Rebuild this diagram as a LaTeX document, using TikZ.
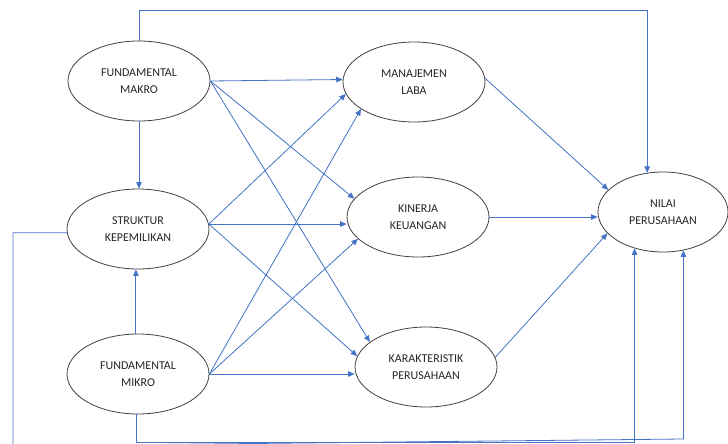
\documentclass[tikz,border=0pt]{standalone}
\usepackage{fontspec}
\setmainfont{Carlito}
\usetikzlibrary{shapes.geometric,arrows.meta}
\definecolor{lblue}{HTML}{4472C4}
\definecolor{egray}{HTML}{404040}
\begin{document}
\begin{tikzpicture}[x=1pt,y=-1pt,
  var/.style={ellipse,draw=egray,line width=0.8pt,minimum width=142pt,minimum height=80pt,inner sep=0pt,align=center,font=\fontsize{12}{16.5}\selectfont,text=black!85},
  arr/.style={draw=lblue,line width=0.8pt,-{Triangle[length=6.5pt,width=5.5pt]}}]
\useasboundingbox (0,0) rectangle (728,444);
\fill[white] (0,0) rectangle (728,444);
\node[var] (FM) at (139,81) {FUNDAMENTAL\\MAKRO};
\node[var] (SK) at (138,229) {STRUKTUR\\KEPEMILIKAN};
\node[var] (FMi) at (138,374) {FUNDAMENTAL\\MIKRO};
\node[var] (ML) at (414,82) {MANAJEMEN\\LABA};
\node[var] (KK) at (418,217) {KINERJA\\KEUANGAN};
\node[var] (KP) at (426,367) {KARAKTERISTIK\\PERUSAHAAN};
\node[var,minimum width=130pt] (NP) at (663,212) {NILAI\\PERUSAHAAN};
\coordinate (top) at (0,10);
\coordinate (botL) at (0,446);
\coordinate (bot1) at (0,439);
\coordinate (bot2) at (0,442);
\coordinate (lft) at (13,0);
% vertical links
\draw[arr] (FM.south) -- (FM.south |- SK.north);
\draw[arr] (FMi.93) -- (FMi.93 |- SK.south);
% from FM
\draw[arr] (FM.east) -- (ML.178);
\draw[arr] (FM.east) -- (KK.164);
\draw[arr] (FM.east) -- (KP.156);
% from SK
\draw[arr] (SK.4) -- (ML.190);
\draw[arr] (SK.4) -- (KK.west |- SK.4);
\draw[arr] (SK.4) -- (KP.171);
% from FMi
\draw[arr] (FMi.east) -- (ML.207);
\draw[arr] (FMi.east) -- (KK.200);
\draw[arr] (FMi.east) -- (KP.west |- FMi.east);
% to NP
\draw[arr] (ML.3) -- (NP.158);
\draw[arr] (KK.east) -- (NP.west |- KK.east);
\draw[arr] (KP.8) -- (NP.201);
% long routes
\draw[arr] (FM.north) -- (FM.north |- top) -- (NP.112 |- top) -- (NP.112);
\draw[arr] (SK.183) -- (SK.183 -| lft) -- (lft |- botL) -- (NP.298 |- bot1) -- (NP.298);
\draw[arr] (FMi.268) -- (FMi.268 |- bot2) -- (NP.232 |- bot2) -- (NP.232);
\end{tikzpicture}
\end{document}
